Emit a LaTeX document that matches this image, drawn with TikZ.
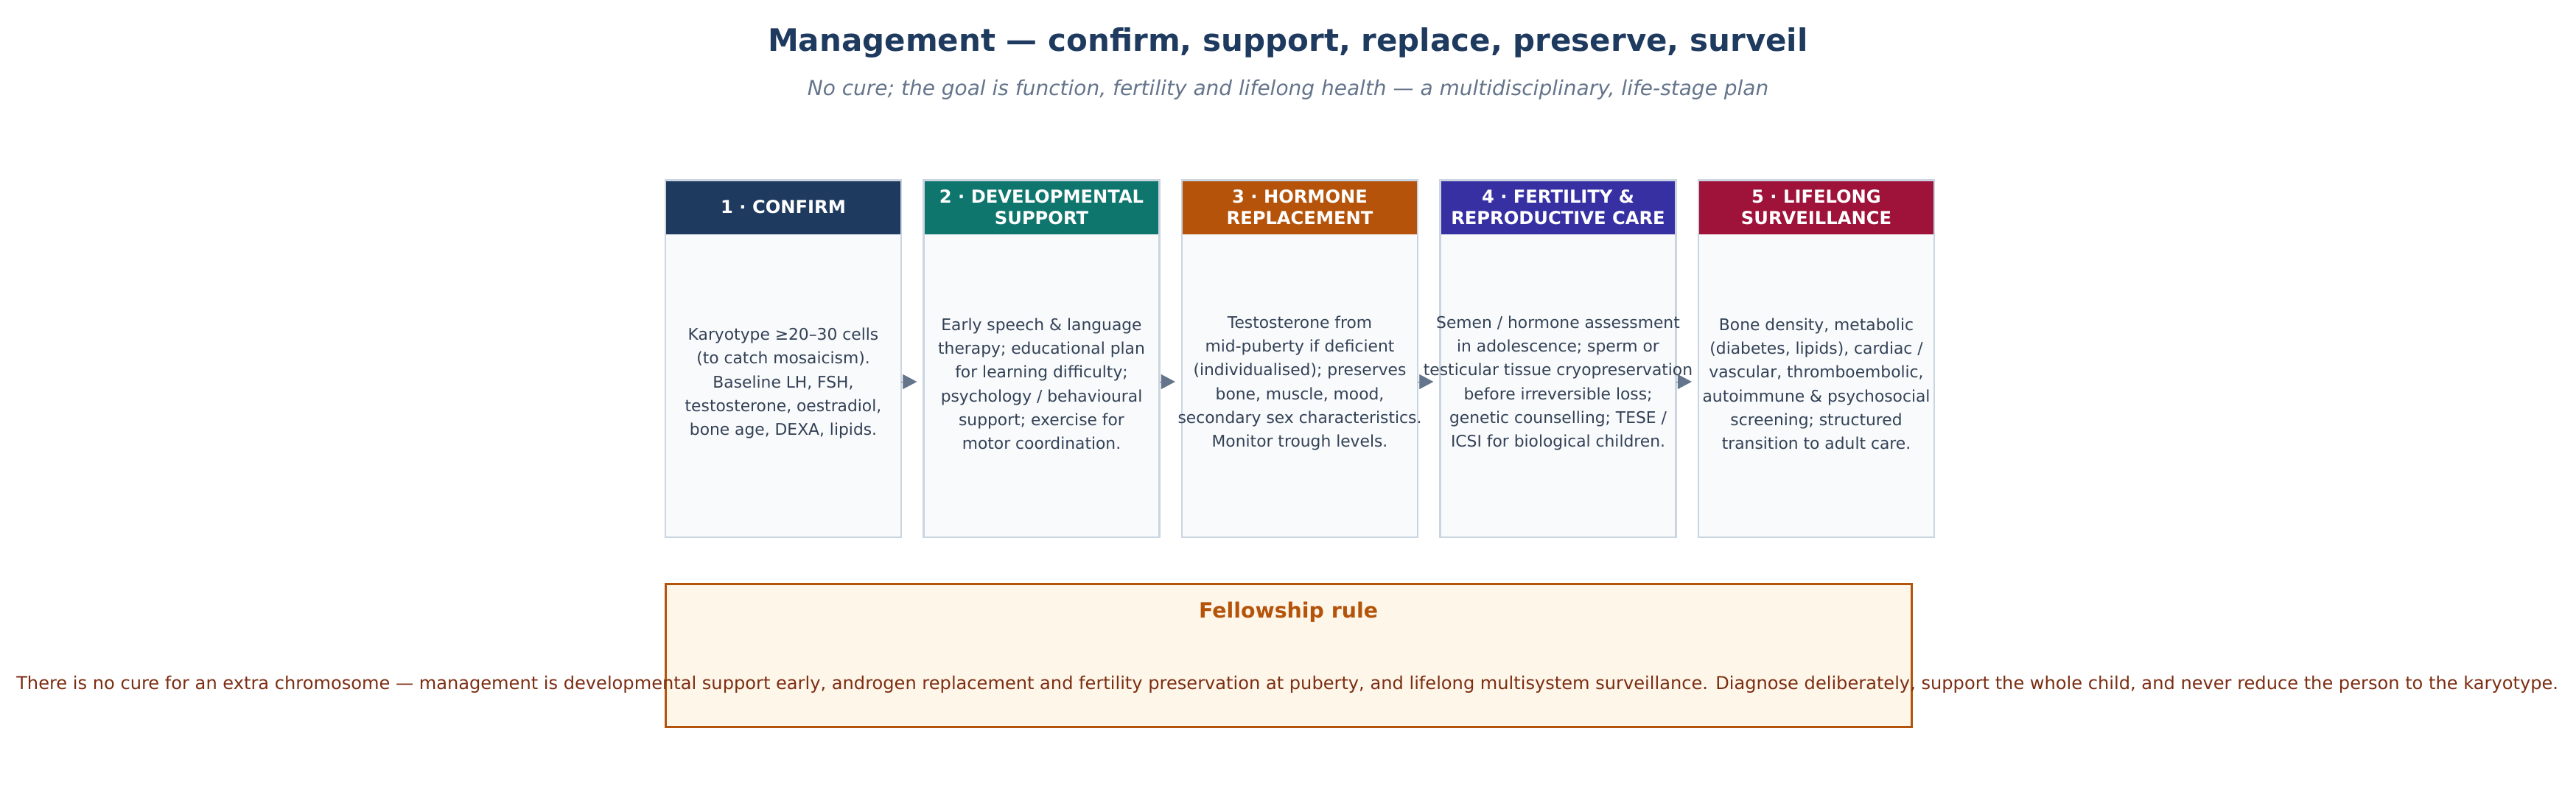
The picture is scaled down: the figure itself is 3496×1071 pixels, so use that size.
\documentclass[tikz,border=0pt]{standalone}
\usepackage{fontspec}
\setmainfont{DejaVu Sans}
\usetikzlibrary{arrows.meta}
\definecolor{titlec}{HTML}{1E3A5F}
\definecolor{subc}{HTML}{64748B}
\definecolor{bodyc}{HTML}{334155}
\definecolor{boxfill}{HTML}{F8FAFC}
\definecolor{boxline}{HTML}{CBD5E1}
\definecolor{cA}{HTML}{1E3A5F}
\definecolor{cB}{HTML}{0F766E}
\definecolor{cC}{HTML}{B45309}
\definecolor{cD}{HTML}{3730A3}
\definecolor{cE}{HTML}{9F1239}
\definecolor{arrc}{HTML}{64748B}
\definecolor{fellfill}{HTML}{FEF6E9}
\definecolor{felline}{HTML}{B45309}
\definecolor{fellbody}{HTML}{7C2D12}
\tikzset{
  bodybox/.style={rectangle, fill=boxfill, minimum width=320pt, minimum height=412pt, inner sep=0pt},
  bodytext/.style={text=bodyc, align=center, font=\fontsize{21.8}{32.3}\selectfont, inner sep=0pt},
  headbox/.style={rectangle, minimum width=320pt, minimum height=73pt, inner sep=0pt, text=white, align=center, font=\bfseries\fontsize{24.2}{29}\selectfont},
  frame/.style={draw=boxline, line width=2.5pt},
  flowarrow/.style={draw=arrc, fill=arrc, line width=0.5pt, -{Triangle[length=19pt,width=20pt]}, shorten >=9pt},
}
\begin{document}
\begin{tikzpicture}[x=1pt,y=-1pt]
\useasboundingbox[fill=white] (0,0) rectangle (3496,1071);
\node[text=titlec, font=\bfseries\fontsize{42}{50}\selectfont] (title) at (1748,58) {Management — confirm, support, replace, preserve, surveil};
\node[text=subc, font=\itshape\fontsize{28}{34}\selectfont] (subtitle) at (1748,122) {No cure; the goal is function, fertility and lifelong health — a multidisciplinary, life-stage plan};

% columns
\node[bodybox] (b1) at (1063,523) {};
\node[bodybox] (b2) at (1413.5,523) {};
\node[bodybox] (b3) at (1764,523) {};
\node[bodybox] (b4) at (2114.5,523) {};
\node[bodybox] (b5) at (2465,523) {};
\node[headbox, fill=cA] (h1) at (1063,281) {1 · CONFIRM};
\node[headbox, fill=cB] (h2) at (1413.5,281) {2 · DEVELOPMENTAL\\SUPPORT};
\node[headbox, fill=cC] (h3) at (1764,281) {3 · HORMONE\\REPLACEMENT};
\node[headbox, fill=cD] (h4) at (2114.5,281) {4 · FERTILITY \&\\REPRODUCTIVE CARE};
\node[headbox, fill=cE] (h5) at (2465,281) {5 · LIFELONG\\SURVEILLANCE};
\foreach \i in {1,...,5}{\draw[frame] (h\i.north west) rectangle (b\i.south east);}

\node[bodytext] (t1) at (1063,520) {Karyotype ≥20–30 cells\\(to catch mosaicism).\\Baseline LH, FSH,\\testosterone, oestradiol,\\bone age, DEXA, lipids.};
\node[bodytext] (t2) at (1413.5,521) {Early speech \& language\\therapy; educational plan\\for learning difficulty;\\psychology / behavioural\\support; exercise for\\motor coordination.};
\node[bodytext] (t3) at (1764,520) {Testosterone from\\mid-puberty if deficient\\(individualised); preserves\\bone, muscle, mood,\\secondary sex characteristics.\\Monitor trough levels.};
\node[bodytext] (t4) at (2114.5,520) {Semen / hormone assessment\\in adolescence; sperm or\\testicular tissue cryopreservation\\before irreversible loss;\\genetic counselling; TESE /\\ICSI for biological children.};
\node[bodytext] (t5) at (2465,521) {Bone density, metabolic\\(diabetes, lipids), cardiac /\\vascular, thromboembolic,\\autoimmune \& psychosocial\\screening; structured\\transition to adult care.};

\draw[flowarrow] ([yshift=5pt]b1.east) -- ([yshift=5pt]b2.west);
\draw[flowarrow] ([yshift=5pt]b2.east) -- ([yshift=5pt]b3.west);
\draw[flowarrow] ([yshift=5pt]b3.east) -- ([yshift=5pt]b4.west);
\draw[flowarrow] ([yshift=5pt]b4.east) -- ([yshift=5pt]b5.west);

% fellowship box
\node[rectangle, fill=fellfill, draw=felline, line width=3pt, minimum width=1691pt, minimum height=194pt, inner sep=0pt] (fb) at (1748.5,889) {};
\node[text=felline, font=\bfseries\fontsize{28.4}{34}\selectfont] (ft) at (1748.5,831) {Fellowship rule};
\node[text=fellbody, font=\fontsize{24.1}{30}\selectfont] (fx) at (1747,929) {There is no cure for an extra chromosome — management is developmental support early, androgen replacement and fertility preservation at puberty, and lifelong multisystem surveillance. Diagnose deliberately, support the whole child, and never reduce the person to the karyotype.};
\end{tikzpicture}
\end{document}
